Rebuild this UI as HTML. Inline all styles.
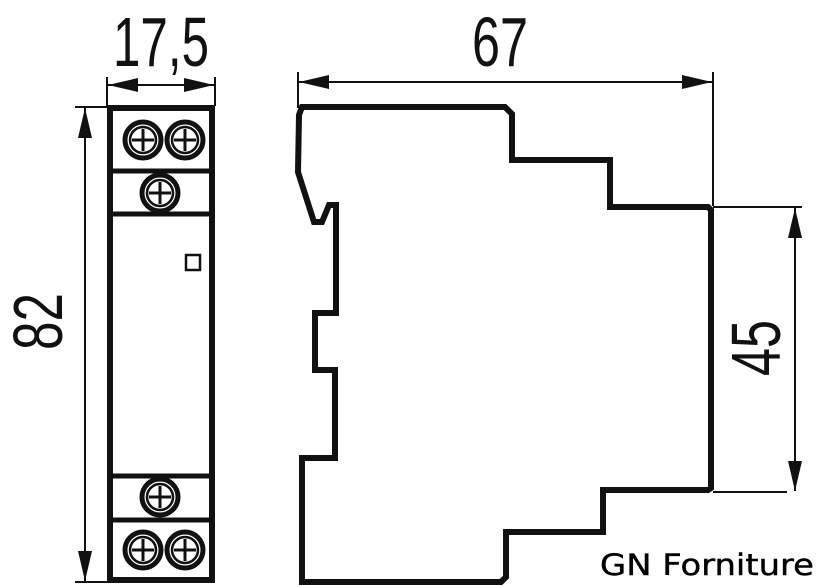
<!DOCTYPE html>
<html><head><meta charset="utf-8"><style>html,body{margin:0;padding:0;background:#fff}svg{display:block}</style></head>
<body>
<svg width="818" height="586" viewBox="0 0 818 586" xmlns="http://www.w3.org/2000/svg">
<defs>
<marker id="b" viewBox="0 0 30 14" refX="30" refY="7" markerWidth="30" markerHeight="14" markerUnits="userSpaceOnUse" orient="auto-start-reverse"><path d="M0,0L30,7L0,14z" fill="#111"/></marker>
<g id="s"><circle r="18" fill="none" stroke="#111" stroke-width="5"/><circle r="13" fill="none" stroke="#111" stroke-width="2.5"/><path d="M-11,0H11M0,-11V11" stroke="#111" stroke-width="3"/></g>
</defs>
<g stroke="#111" fill="none">
<rect x="110" y="108" width="102" height="472" stroke-width="6"/>
<path d="M110,171H212M110,214H212M110,476H212M110,520H212" stroke-width="5"/>
<rect x="186" y="255" width="14" height="15" stroke-width="2.5"/>
<path d="M107,77V106M215,77V106" stroke-width="2"/>
<path d="M108,85H214" stroke-width="2" marker-start="url(#b)" marker-end="url(#b)"/>
<path d="M75,107H108M75,582H108" stroke-width="2"/>
<path d="M85,108V581" stroke-width="2" marker-start="url(#b)" marker-end="url(#b)"/>
<path d="M302,107L505,107L512,114L512,160L610,160L610,207L708,207L711,210L711,488L708,490L603,490L603,532L506,532L506,577L501,582L302,582L302,458L335,458L335,370L315,370L315,313L336,313L336,205L329,205L322,222L314,222L298,172L299,115Z" stroke-width="6" stroke-linejoin="miter"/>
<path d="M298,72V108M713,72V206" stroke-width="2"/>
<path d="M299,82H712" stroke-width="2" marker-start="url(#b)" marker-end="url(#b)"/>
<path d="M713,207H802M713,492H787" stroke-width="2"/>
<path d="M795,208V491" stroke-width="2" marker-start="url(#b)" marker-end="url(#b)"/>
</g>
<use href="#s" x="143" y="140"/><use href="#s" x="185" y="140"/><use href="#s" x="160" y="193"/>
<use href="#s" x="160" y="497"/><use href="#s" x="143" y="550"/><use href="#s" x="185" y="550"/>
<g font-family="Liberation Sans, sans-serif" fill="#111">
<text x="113" y="66" font-size="70" textLength="96" lengthAdjust="spacingAndGlyphs">17,5</text>
<text x="472" y="66" font-size="70" textLength="56" lengthAdjust="spacingAndGlyphs">67</text>
<text transform="translate(62,350) rotate(-90)" font-size="70" textLength="57" lengthAdjust="spacingAndGlyphs">82</text>
<text transform="translate(780,376) rotate(-90)" font-size="70" textLength="56" lengthAdjust="spacingAndGlyphs">45</text>
</g>
<text x="600" y="575" font-family="DejaVu Sans, sans-serif" font-size="29" fill="#000" stroke="#000" stroke-width="0.4" textLength="214" lengthAdjust="spacingAndGlyphs">GN Forniture</text>
</svg>
</body></html>
